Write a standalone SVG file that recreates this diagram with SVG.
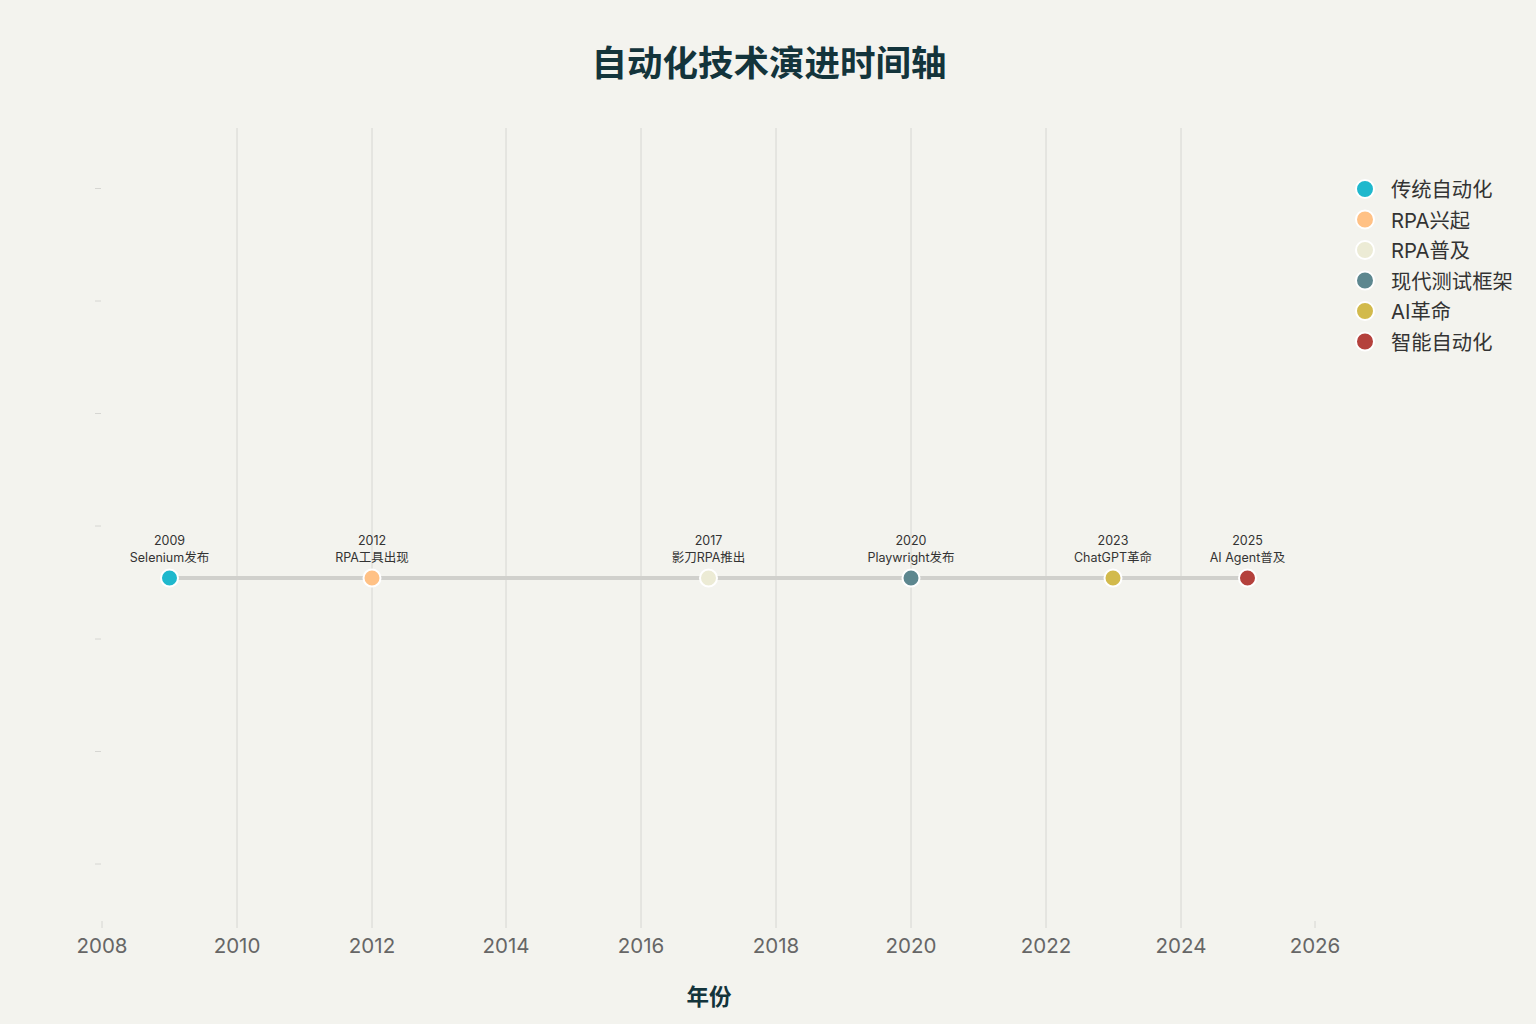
<svg xmlns="http://www.w3.org/2000/svg" width="1536" height="1024" viewBox="0 0 1536 1024">
<style>
.grid{stroke:#d6d6d2;stroke-width:1}
.tick{stroke:#d6d6d2;stroke-width:1}
.yl{font-family:"Inter","Liberation Sans","Noto Sans CJK SC",sans-serif;font-size:20.5px;fill:#666;text-anchor:middle}
.lbl{font-family:"Inter","Liberation Sans","Noto Sans CJK SC",sans-serif;font-size:12.5px;fill:#333;text-anchor:middle}
.leg{font-family:"Inter","Liberation Sans","Noto Sans CJK SC",sans-serif;font-size:20.3px;fill:#333}
.dot{stroke:#fff;stroke-width:2}
</style>
<rect width="1536" height="1024" fill="#F3F3EE"/>
<text x="769" y="76" font-family="'Noto Sans CJK SC',sans-serif" font-size="35.5" font-weight="bold" fill="#13343B" text-anchor="middle">自动化技术演进时间轴</text>
<g id="grid">
<line class="grid" x1="237" y1="128" x2="237" y2="928"/>
<line class="grid" x1="372" y1="128" x2="372" y2="928"/>
<line class="grid" x1="506" y1="128" x2="506" y2="928"/>
<line class="grid" x1="641" y1="128" x2="641" y2="928"/>
<line class="grid" x1="776" y1="128" x2="776" y2="928"/>
<line class="grid" x1="911" y1="128" x2="911" y2="928"/>
<line class="grid" x1="1046" y1="128" x2="1046" y2="928"/>
<line class="grid" x1="1181" y1="128" x2="1181" y2="928"/>
<line class="tick" x1="102" y1="921" x2="102" y2="928"/>
<line class="tick" x1="1315" y1="921" x2="1315" y2="928"/>
<line class="tick" x1="95" y1="188.5" x2="101" y2="188.5"/>
<line class="tick" x1="95" y1="301" x2="101" y2="301"/>
<line class="tick" x1="95" y1="413.5" x2="101" y2="413.5"/>
<line class="tick" x1="95" y1="526" x2="101" y2="526"/>
<line class="tick" x1="95" y1="639" x2="101" y2="639"/>
<line class="tick" x1="95" y1="751.5" x2="101" y2="751.5"/>
<line class="tick" x1="95" y1="864" x2="101" y2="864"/>
</g>
<g id="xaxis">
<text class="yl" x="102" y="953">2008</text>
<text class="yl" x="237" y="953">2010</text>
<text class="yl" x="372" y="953">2012</text>
<text class="yl" x="506" y="953">2014</text>
<text class="yl" x="641" y="953">2016</text>
<text class="yl" x="776" y="953">2018</text>
<text class="yl" x="911" y="953">2020</text>
<text class="yl" x="1046" y="953">2022</text>
<text class="yl" x="1181" y="953">2024</text>
<text class="yl" x="1315" y="953">2026</text>
<text x="709" y="1005" font-family="'Noto Sans CJK SC',sans-serif" font-size="22.5" font-weight="bold" fill="#13343B" text-anchor="middle">年份</text>
</g>
<g id="connectors">
<line x1="169.5" y1="578" x2="1247.5" y2="578" stroke="#d0d0cc" stroke-width="4"/>
</g>
<g id="n2009"><circle class="dot" cx="169.5" cy="578" r="8.5" fill="#1FB8CD"/><text class="lbl" x="169.5" y="545">2009</text><text class="lbl" x="169.5" y="562">Selenium发布</text></g>
<g id="n2012"><circle class="dot" cx="372" cy="578" r="8.5" fill="#FFC185"/><text class="lbl" x="372" y="545">2012</text><text class="lbl" x="372" y="562">RPA工具出现</text></g>
<g id="n2017"><circle class="dot" cx="708.5" cy="578" r="8.5" fill="#ECEBD5"/><text class="lbl" x="708.5" y="545">2017</text><text class="lbl" x="708.5" y="562">影刀RPA推出</text></g>
<g id="n2020"><circle class="dot" cx="911" cy="578" r="8.5" fill="#5D878F"/><text class="lbl" x="911" y="545">2020</text><text class="lbl" x="911" y="562">Playwright发布</text></g>
<g id="n2023"><circle class="dot" cx="1113" cy="578" r="8.5" fill="#D2BA4C"/><text class="lbl" x="1113" y="545">2023</text><text class="lbl" x="1113" y="562">ChatGPT革命</text></g>
<g id="n2025"><circle class="dot" cx="1247.5" cy="578" r="8.5" fill="#B4413C"/><text class="lbl" x="1247.5" y="545">2025</text><text class="lbl" x="1247.5" y="562">AI Agent普及</text></g>
<g id="legend">
<circle class="dot" cx="1365" cy="189" r="9" fill="#1FB8CD"/><text class="leg" x="1391" y="197">传统自动化</text>
<circle class="dot" cx="1365" cy="219.5" r="9" fill="#FFC185"/><text class="leg" x="1391" y="227.5">RPA兴起</text>
<circle class="dot" cx="1365" cy="250" r="9" fill="#ECEBD5"/><text class="leg" x="1391" y="258">RPA普及</text>
<circle class="dot" cx="1365" cy="280.5" r="9" fill="#5D878F"/><text class="leg" x="1391" y="288.5">现代测试框架</text>
<circle class="dot" cx="1365" cy="311" r="9" fill="#D2BA4C"/><text class="leg" x="1391" y="319">AI革命</text>
<circle class="dot" cx="1365" cy="341.5" r="9" fill="#B4413C"/><text class="leg" x="1391" y="349.5">智能自动化</text>
</g>
</svg>
